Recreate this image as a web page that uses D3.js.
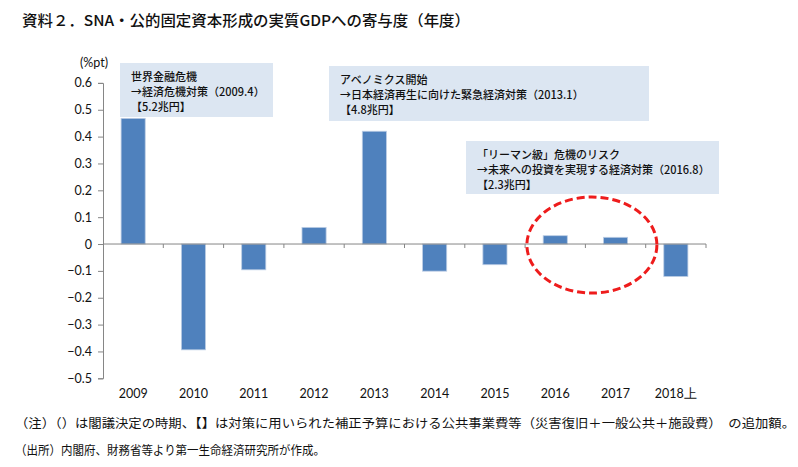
<!DOCTYPE html>
<html><head><meta charset="utf-8">
<script src="https://cdn.jsdelivr.net/npm/d3@7"></script>
<style>body{margin:0;background:#fff}svg{display:block}</style>
</head><body>
<svg id="c" width="798" height="467"></svg>
<script>
const categories = ["2009","2010","2011","2012","2013","2014","2015","2016","2017","2018上"];
const values = [0.468,-0.394,-0.096,0.062,0.42,-0.101,-0.077,0.031,0.025,-0.121];
const yTicks = [0.6,0.5,0.4,0.3,0.2,0.1,0,-0.1,-0.2,-0.3,-0.4,-0.5];
const notes = [
  {label:["世界金融危機","→経済危機対策（2009.4）","【5.2兆円】"], x0:120, x1:273, y0:63, y1:117},
  {label:["アベノミクス開始","→日本経済再生に向けた緊急経済対策（2013.1）","【4.8兆円】"], x0:329, x1:649, y0:66, y1:121},
  {label:["「リーマン級」危機のリスク","→未来への投資を実現する経済対策（2016.8）","【2.3兆円】"], x0:466, x1:719, y0:141, y1:194}
];
const svg = d3.select("#c");
const x = d3.scaleBand().domain(categories).range([103,706]).paddingInner(0.6).paddingOuter(0.3);
const y = d3.scaleLinear().domain([-0.5,0.6]).range([378.3,82.9]);
const jp = "'Noto Sans CJK JP', sans-serif";
const num = "Lato, 'Open Sans', sans-serif";

// title
svg.append("text").attr("x",22).attr("y",26).attr("font-family",jp).attr("font-size",15)
  .attr("font-weight",500).attr("fill","#111").attr("textLength",448).attr("lengthAdjust","spacingAndGlyphs")
  .text("資料２．SNA・公的固定資本形成の実質GDPへの寄与度（年度）");

// annotation boxes
notes.forEach(n=>{
  svg.append("rect").attr("x",n.x0).attr("y",n.y0).attr("width",n.x1-n.x0).attr("height",n.y1-n.y0).attr("fill","#dce6f2");
  n.label.forEach((t,i)=>{
    svg.append("text").attr("x",n.x0+11).attr("y",n.y0+18+i*15).attr("font-family",jp)
      .attr("font-size",11).attr("font-weight",500).attr("fill","#111").text(t);
  });
});

// y axis
const ya = svg.append("g").attr("transform","translate(103,0)")
  .call(d3.axisLeft(y).tickValues(yTicks).tickSize(5).tickPadding(6).tickFormat(d=>d===0?"0":d3.format(".1f")(d)));
ya.select(".domain").attr("stroke","#868686");
ya.selectAll(".tick line").attr("stroke","#868686");
ya.selectAll(".tick text").attr("font-family",num).attr("font-size",12.5).attr("fill","#111");
svg.append("text").attr("x",80).attr("y",67).attr("font-family",num).attr("font-size",12.5).attr("fill","#111").text("(%pt)");

// bars
svg.append("g").selectAll("rect").data(values).join("rect")
  .attr("x",(d,i)=>x(categories[i])).attr("width",x.bandwidth())
  .attr("y",d=>y(Math.max(0,d))).attr("height",d=>Math.abs(y(d)-y(0)))
  .attr("fill","#4f81bd").attr("stroke","#bccde4").attr("stroke-width",0.8);

// x axis line and ticks
const xa = svg.append("g").attr("transform",`translate(0,${y(0)})`);
xa.append("line").attr("x1",103).attr("x2",706).attr("stroke","#868686");
const bounds = categories.map(c=>x(c)-x.step()*x.paddingInner()/2).slice(1).concat([706]);
xa.selectAll(".tk").data(bounds).join("line").attr("x1",d=>d).attr("x2",d=>d).attr("y1",0).attr("y2",4).attr("stroke","#868686");

// category labels
svg.append("g").selectAll("text").data(categories).join("text")
  .attr("x",d=>x(d)+x.bandwidth()/2).attr("y",398).attr("text-anchor","middle")
  .attr("font-family",num).attr("font-size",12.5).attr("fill","#111").text(d=>d);

// dashed ellipse
svg.append("ellipse").attr("cx",(x("2016")+x("2017")+x.bandwidth())/2+6.5).attr("cy",y(0)+1)
  .attr("rx",65).attr("ry",48).attr("fill","none").attr("stroke","#ee1c1c")
  .attr("stroke-width",3).attr("stroke-dasharray","8,4");

// notes
svg.append("text").attr("x",15).attr("y",428).attr("font-family",jp).attr("font-size",12.5).attr("fill","#111")
  .attr("textLength",780).attr("lengthAdjust","spacingAndGlyphs")
  .text("（注）（）は閣議決定の時期、【】は対策に用いられた補正予算における公共事業費等（災害復旧＋一般公共＋施設費）　の追加額。");
svg.append("text").attr("x",15).attr("y",455).attr("font-family",jp).attr("font-size",12.5).attr("fill","#111")
  .attr("textLength",310).attr("lengthAdjust","spacingAndGlyphs")
  .text("（出所）内閣府、財務省等より第一生命経済研究所が作成。");
</script>
</body></html>
